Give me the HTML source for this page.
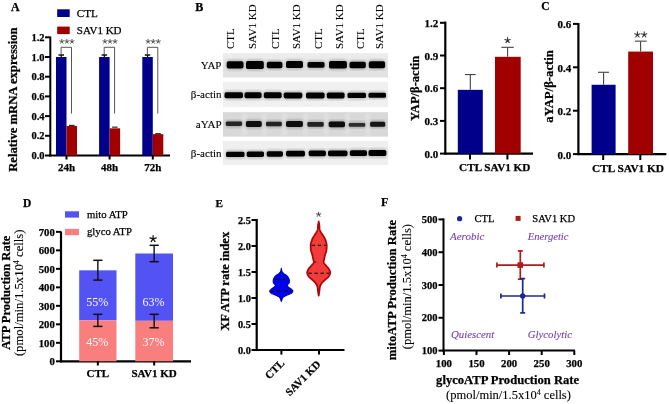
<!DOCTYPE html>
<html><head><meta charset="utf-8"><style>
html,body{margin:0;padding:0;background:#fff;width:669px;height:404px;overflow:hidden}
svg{display:block;font-family:"Liberation Serif",serif;will-change:transform}
</style></head><body>
<svg width="669" height="404" viewBox="0 0 669 404">
<rect width="669" height="404" fill="#fff"/>
<text x="11" y="10.6" font-size="11.9" font-weight="bold" font-style="normal" text-anchor="start" fill="#000" stroke="#000" stroke-width="0.25" >A</text>
<rect x="57.2" y="9.3" width="12.5" height="7.7" fill="#00008b" />
<text x="76.8" y="16.7" font-size="11.1" font-weight="normal" font-style="normal" text-anchor="start" fill="#000" stroke="#000" stroke-width="0.25" >CTL</text>
<rect x="57.2" y="26.6" width="12.5" height="7.5" fill="#a00000" />
<text x="76.8" y="34" font-size="11.0" font-weight="normal" font-style="normal" text-anchor="start" fill="#000" stroke="#000" stroke-width="0.25" >SAV1 KD</text>
<line x1="50.3" y1="36.5" x2="50.3" y2="156.5" stroke="#000" stroke-width="2" />
<line x1="49" y1="155.5" x2="170" y2="155.5" stroke="#000" stroke-width="2" />
<line x1="45" y1="155.5" x2="50" y2="155.5" stroke="#000" stroke-width="2" />
<text x="44.5" y="159.1" font-size="10.5" font-weight="bold" font-style="normal" text-anchor="end" fill="#000" stroke="#000" stroke-width="0.25" >0.0</text>
<line x1="45" y1="135.8" x2="50" y2="135.8" stroke="#000" stroke-width="2" />
<text x="44.5" y="139.4" font-size="10.5" font-weight="bold" font-style="normal" text-anchor="end" fill="#000" stroke="#000" stroke-width="0.25" >0.2</text>
<line x1="45" y1="116.1" x2="50" y2="116.1" stroke="#000" stroke-width="2" />
<text x="44.5" y="119.69999999999999" font-size="10.5" font-weight="bold" font-style="normal" text-anchor="end" fill="#000" stroke="#000" stroke-width="0.25" >0.4</text>
<line x1="45" y1="96.39999999999999" x2="50" y2="96.39999999999999" stroke="#000" stroke-width="2" />
<text x="44.5" y="99.99999999999999" font-size="10.5" font-weight="bold" font-style="normal" text-anchor="end" fill="#000" stroke="#000" stroke-width="0.25" >0.6</text>
<line x1="45" y1="76.69999999999999" x2="50" y2="76.69999999999999" stroke="#000" stroke-width="2" />
<text x="44.5" y="80.29999999999998" font-size="10.5" font-weight="bold" font-style="normal" text-anchor="end" fill="#000" stroke="#000" stroke-width="0.25" >0.8</text>
<line x1="45" y1="57.0" x2="50" y2="57.0" stroke="#000" stroke-width="2" />
<text x="44.5" y="60.6" font-size="10.5" font-weight="bold" font-style="normal" text-anchor="end" fill="#000" stroke="#000" stroke-width="0.25" >1.0</text>
<line x1="45" y1="37.29999999999998" x2="50" y2="37.29999999999998" stroke="#000" stroke-width="2" />
<text x="44.5" y="40.899999999999984" font-size="10.5" font-weight="bold" font-style="normal" text-anchor="end" fill="#000" stroke="#000" stroke-width="0.25" >1.2</text>
<text x="0" y="0" font-size="12.65" font-weight="bold" font-style="normal" text-anchor="middle" fill="#000" stroke="#000" stroke-width="0.25" transform="translate(16.6 99.6) rotate(-90) scale(1 1.03)" >Relative mRNA expression</text>
<rect x="56.0" y="57.0" width="10.5" height="98.5" fill="#00008b" />
<rect x="66.5" y="125.95" width="10.5" height="29.549999999999997" fill="#a00000" />
<line x1="61.25" y1="55.0" x2="61.25" y2="57.0" stroke="#000" stroke-width="1.2" />
<line x1="58.5" y1="55.0" x2="64.0" y2="55.0" stroke="#000" stroke-width="1.4" />
<line x1="69.0" y1="125.35900000000001" x2="74.5" y2="125.35900000000001" stroke="#000" stroke-width="1" />
<line x1="66.5" y1="155.5" x2="66.5" y2="159.5" stroke="#000" stroke-width="2" />
<text x="66.5" y="171.1" font-size="11" font-weight="bold" font-style="normal" text-anchor="middle" fill="#000" stroke="#000" stroke-width="0.25" >24h</text>
<polyline points="61.1,54.0 61.1,47.3 71.5,47.3 71.5,113.5" fill="none" stroke="#444" stroke-width="0.9"/>
<path d="M61.80,41.51L61.80,39.41M61.80,41.51L63.80,40.86M61.80,41.51L63.03,43.21M61.80,41.51L60.57,43.21M61.80,41.51L59.80,40.86" stroke="#555" stroke-width="1.0" stroke-linecap="round" fill="none"/>
<path d="M66.90,41.51L66.90,39.41M66.90,41.51L68.90,40.86M66.90,41.51L68.13,43.21M66.90,41.51L65.67,43.21M66.90,41.51L64.90,40.86" stroke="#555" stroke-width="1.0" stroke-linecap="round" fill="none"/>
<path d="M72.00,41.51L72.00,39.41M72.00,41.51L74.00,40.86M72.00,41.51L73.23,43.21M72.00,41.51L70.77,43.21M72.00,41.51L70.00,40.86" stroke="#555" stroke-width="1.0" stroke-linecap="round" fill="none"/>
<rect x="99.1" y="57.0" width="10.5" height="98.5" fill="#00008b" />
<rect x="109.6" y="128.314" width="10.5" height="27.186000000000007" fill="#a00000" />
<line x1="104.35" y1="55.0" x2="104.35" y2="57.0" stroke="#000" stroke-width="1.2" />
<line x1="101.6" y1="55.0" x2="107.1" y2="55.0" stroke="#000" stroke-width="1.4" />
<line x1="112.1" y1="127.132" x2="117.6" y2="127.132" stroke="#000" stroke-width="1" />
<line x1="109.6" y1="155.5" x2="109.6" y2="159.5" stroke="#000" stroke-width="2" />
<text x="109.6" y="171.1" font-size="11" font-weight="bold" font-style="normal" text-anchor="middle" fill="#000" stroke="#000" stroke-width="0.25" >48h</text>
<polyline points="104.19999999999999,54.0 104.19999999999999,47.3 114.6,47.3 114.6,113.5" fill="none" stroke="#444" stroke-width="0.9"/>
<path d="M104.90,41.51L104.90,39.41M104.90,41.51L106.90,40.86M104.90,41.51L106.13,43.21M104.90,41.51L103.67,43.21M104.90,41.51L102.90,40.86" stroke="#555" stroke-width="1.0" stroke-linecap="round" fill="none"/>
<path d="M110.00,41.51L110.00,39.41M110.00,41.51L112.00,40.86M110.00,41.51L111.23,43.21M110.00,41.51L108.77,43.21M110.00,41.51L108.00,40.86" stroke="#555" stroke-width="1.0" stroke-linecap="round" fill="none"/>
<path d="M115.10,41.51L115.10,39.41M115.10,41.51L117.10,40.86M115.10,41.51L116.33,43.21M115.10,41.51L113.87,43.21M115.10,41.51L113.10,40.86" stroke="#555" stroke-width="1.0" stroke-linecap="round" fill="none"/>
<rect x="142.3" y="57.0" width="10.5" height="98.5" fill="#00008b" />
<rect x="152.8" y="134.1255" width="10.5" height="21.374500000000012" fill="#a00000" />
<line x1="147.55" y1="55.0" x2="147.55" y2="57.0" stroke="#000" stroke-width="1.2" />
<line x1="144.8" y1="55.0" x2="150.3" y2="55.0" stroke="#000" stroke-width="1.4" />
<line x1="155.3" y1="133.7315" x2="160.8" y2="133.7315" stroke="#000" stroke-width="1" />
<line x1="152.8" y1="155.5" x2="152.8" y2="159.5" stroke="#000" stroke-width="2" />
<text x="152.8" y="171.1" font-size="11" font-weight="bold" font-style="normal" text-anchor="middle" fill="#000" stroke="#000" stroke-width="0.25" >72h</text>
<polyline points="147.4,54.0 147.4,47.3 157.8,47.3 157.8,113.5" fill="none" stroke="#444" stroke-width="0.9"/>
<path d="M148.10,41.51L148.10,39.41M148.10,41.51L150.10,40.86M148.10,41.51L149.33,43.21M148.10,41.51L146.87,43.21M148.10,41.51L146.10,40.86" stroke="#555" stroke-width="1.0" stroke-linecap="round" fill="none"/>
<path d="M153.20,41.51L153.20,39.41M153.20,41.51L155.20,40.86M153.20,41.51L154.43,43.21M153.20,41.51L151.97,43.21M153.20,41.51L151.20,40.86" stroke="#555" stroke-width="1.0" stroke-linecap="round" fill="none"/>
<path d="M158.30,41.51L158.30,39.41M158.30,41.51L160.30,40.86M158.30,41.51L159.53,43.21M158.30,41.51L157.07,43.21M158.30,41.51L156.30,40.86" stroke="#555" stroke-width="1.0" stroke-linecap="round" fill="none"/>
<text x="195.3" y="10.6" font-size="12" font-weight="bold" font-style="normal" text-anchor="start" fill="#000" stroke="#000" stroke-width="0.25" >B</text>
<text x="233.9" y="49.0" font-size="11" font-weight="normal" font-style="normal" text-anchor="start" fill="#000" stroke="#000" stroke-width="0.1" transform="rotate(-90 233.9 49.0)" >CTL</text>
<text x="255.8" y="49.0" font-size="11" font-weight="normal" font-style="normal" text-anchor="start" fill="#000" stroke="#000" stroke-width="0.1" transform="rotate(-90 255.8 49.0)" >SAV1 KD</text>
<text x="279.1" y="49.0" font-size="11" font-weight="normal" font-style="normal" text-anchor="start" fill="#000" stroke="#000" stroke-width="0.1" transform="rotate(-90 279.1 49.0)" >CTL</text>
<text x="299.7" y="49.0" font-size="11" font-weight="normal" font-style="normal" text-anchor="start" fill="#000" stroke="#000" stroke-width="0.1" transform="rotate(-90 299.7 49.0)" >SAV1 KD</text>
<text x="322.3" y="49.0" font-size="11" font-weight="normal" font-style="normal" text-anchor="start" fill="#000" stroke="#000" stroke-width="0.1" transform="rotate(-90 322.3 49.0)" >CTL</text>
<text x="343.3" y="49.0" font-size="11" font-weight="normal" font-style="normal" text-anchor="start" fill="#000" stroke="#000" stroke-width="0.1" transform="rotate(-90 343.3 49.0)" >SAV1 KD</text>
<text x="363.9" y="49.0" font-size="11" font-weight="normal" font-style="normal" text-anchor="start" fill="#000" stroke="#000" stroke-width="0.1" transform="rotate(-90 363.9 49.0)" >CTL</text>
<text x="382.6" y="49.0" font-size="11" font-weight="normal" font-style="normal" text-anchor="start" fill="#000" stroke="#000" stroke-width="0.1" transform="rotate(-90 382.6 49.0)" >SAV1 KD</text>
<defs><filter id="bl" x="-30%" y="-80%" width="160%" height="260%"><feGaussianBlur stdDeviation="0.7"/></filter><filter id="bl2" x="-50%" y="-10%" width="200%" height="120%"><feGaussianBlur stdDeviation="1.6"/></filter><linearGradient id="gY" x1="0" y1="0" x2="0" y2="1"><stop offset="0" stop-color="#eeeeee"/><stop offset="0.5" stop-color="#e4e4e4"/><stop offset="1" stop-color="#e2e2e2"/></linearGradient></defs>
<rect x="223" y="53" width="165" height="24.5" fill="url(#gY)" />
<rect x="226.2" y="59.800000000000004" width="17.80000000000001" height="10.2" rx="3.6" fill="#555" opacity="0.35" filter="url(#bl2)"/>
<rect x="226.7" y="61.300000000000004" width="16.80000000000001" height="7.2" rx="1.8" fill="#000" filter="url(#bl)"/>
<rect x="245.5" y="59.5" width="18.80000000000001" height="11" rx="4.0" fill="#555" opacity="0.35" filter="url(#bl2)"/>
<rect x="246" y="61.0" width="17.80000000000001" height="8" rx="1.8" fill="#000" filter="url(#bl)"/>
<rect x="266.3" y="60.3" width="16.599999999999966" height="9.4" rx="3.2" fill="#555" opacity="0.35" filter="url(#bl2)"/>
<rect x="266.8" y="61.8" width="15.599999999999966" height="6.4" rx="1.8" fill="#000" filter="url(#bl)"/>
<rect x="285.5" y="59.599999999999994" width="18" height="10" rx="3.5" fill="#555" opacity="0.35" filter="url(#bl2)"/>
<rect x="286" y="61.099999999999994" width="17" height="7" rx="1.8" fill="#000" filter="url(#bl)"/>
<rect x="307.0" y="60.4" width="18.100000000000023" height="8.8" rx="2.9" fill="#555" opacity="0.35" filter="url(#bl2)"/>
<rect x="307.5" y="61.9" width="17.100000000000023" height="5.8" rx="1.74" fill="#000" filter="url(#bl)"/>
<rect x="328.5" y="59.599999999999994" width="18.899999999999977" height="10.4" rx="3.7" fill="#555" opacity="0.35" filter="url(#bl2)"/>
<rect x="329" y="61.099999999999994" width="17.899999999999977" height="7.4" rx="1.8" fill="#000" filter="url(#bl)"/>
<rect x="349.0" y="60.3" width="17.30000000000001" height="9.4" rx="3.2" fill="#555" opacity="0.35" filter="url(#bl2)"/>
<rect x="349.5" y="61.8" width="16.30000000000001" height="6.4" rx="1.8" fill="#000" filter="url(#bl)"/>
<rect x="368.3" y="59.8" width="17.30000000000001" height="10" rx="3.5" fill="#555" opacity="0.35" filter="url(#bl2)"/>
<rect x="368.8" y="61.3" width="16.30000000000001" height="7" rx="1.8" fill="#000" filter="url(#bl)"/>
<text x="221.5" y="68.95" font-size="11" font-weight="normal" font-style="normal" text-anchor="end" fill="#000" stroke="#000" stroke-width="0.1" >YAP</text>
<rect x="223" y="81.8" width="165" height="25.200000000000003" fill="#f0f0f0" />
<rect x="224.0" y="90.7" width="19.5" height="9" rx="3.0" fill="#555" opacity="0.35" filter="url(#bl2)"/>
<rect x="224.5" y="92.2" width="18.5" height="6" rx="1.7999999999999998" fill="#000" filter="url(#bl)"/>
<rect x="244.0" y="90.7" width="18.100000000000023" height="9" rx="3.0" fill="#555" opacity="0.35" filter="url(#bl2)"/>
<rect x="244.5" y="92.2" width="17.100000000000023" height="6" rx="1.7999999999999998" fill="#000" filter="url(#bl)"/>
<rect x="263.3" y="90.7" width="18.899999999999977" height="9" rx="3.0" fill="#555" opacity="0.35" filter="url(#bl2)"/>
<rect x="263.8" y="92.2" width="17.899999999999977" height="6" rx="1.7999999999999998" fill="#000" filter="url(#bl)"/>
<rect x="283.2" y="90.9" width="19.600000000000023" height="9" rx="3.0" fill="#555" opacity="0.35" filter="url(#bl2)"/>
<rect x="283.7" y="92.4" width="18.600000000000023" height="6" rx="1.7999999999999998" fill="#000" filter="url(#bl)"/>
<rect x="305.5" y="91.0" width="19.600000000000023" height="9" rx="3.0" fill="#555" opacity="0.35" filter="url(#bl2)"/>
<rect x="306" y="92.5" width="18.600000000000023" height="6" rx="1.7999999999999998" fill="#000" filter="url(#bl)"/>
<rect x="326.3" y="91.0" width="18.80000000000001" height="9" rx="3.0" fill="#555" opacity="0.35" filter="url(#bl2)"/>
<rect x="326.8" y="92.5" width="17.80000000000001" height="6" rx="1.7999999999999998" fill="#000" filter="url(#bl)"/>
<rect x="347.0" y="91.2" width="19.5" height="8.4" rx="2.7" fill="#555" opacity="0.35" filter="url(#bl2)"/>
<rect x="347.5" y="92.7" width="18.5" height="5.4" rx="1.62" fill="#000" filter="url(#bl)"/>
<rect x="368.0" y="91.2" width="18.5" height="8.0" rx="2.5" fill="#555" opacity="0.35" filter="url(#bl2)"/>
<rect x="368.5" y="92.7" width="17.5" height="5.0" rx="1.5" fill="#000" filter="url(#bl)"/>
<text x="221.5" y="98.10000000000001" font-size="11" font-weight="normal" font-style="normal" text-anchor="end" fill="#000" stroke="#000" stroke-width="0.1" >β-actin</text>
<rect x="223" y="112.2" width="165" height="24.39999999999999" fill="#d8d8d8" />
<rect x="242.7" y="113.2" width="3.6" height="22.39999999999999" fill="#e2e2e2" filter="url(#bl2)"/>
<rect x="262.7" y="113.2" width="3.6" height="22.39999999999999" fill="#e2e2e2" filter="url(#bl2)"/>
<rect x="282.7" y="113.2" width="3.6" height="22.39999999999999" fill="#e2e2e2" filter="url(#bl2)"/>
<rect x="303.7" y="113.2" width="3.6" height="22.39999999999999" fill="#e2e2e2" filter="url(#bl2)"/>
<rect x="324.7" y="113.2" width="3.6" height="22.39999999999999" fill="#e2e2e2" filter="url(#bl2)"/>
<rect x="345.7" y="113.2" width="3.6" height="22.39999999999999" fill="#e2e2e2" filter="url(#bl2)"/>
<rect x="366.2" y="113.2" width="3.6" height="22.39999999999999" fill="#e2e2e2" filter="url(#bl2)"/>
<rect x="225.3" y="120.0" width="17.299999999999983" height="7.4" rx="2.2" fill="#555" opacity="0.35" filter="url(#bl2)"/>
<rect x="225.8" y="121.5" width="16.299999999999983" height="4.4" rx="1.32" fill="#262626" filter="url(#bl)"/>
<rect x="245.4" y="119.5" width="16.799999999999983" height="9" rx="3.0" fill="#555" opacity="0.35" filter="url(#bl2)"/>
<rect x="245.9" y="121.0" width="15.799999999999983" height="6" rx="1.7999999999999998" fill="#0a0a0a" filter="url(#bl)"/>
<rect x="265.5" y="120.2" width="16.80000000000001" height="7.6" rx="2.3" fill="#555" opacity="0.35" filter="url(#bl2)"/>
<rect x="266" y="121.7" width="15.800000000000011" height="4.6" rx="1.38" fill="#222" filter="url(#bl)"/>
<rect x="285.5" y="119.5" width="17.899999999999977" height="9" rx="3.0" fill="#555" opacity="0.35" filter="url(#bl2)"/>
<rect x="286" y="121.0" width="16.899999999999977" height="6" rx="1.7999999999999998" fill="#0a0a0a" filter="url(#bl)"/>
<rect x="306.9" y="120.60000000000001" width="17.30000000000001" height="7.6" rx="2.3" fill="#555" opacity="0.35" filter="url(#bl2)"/>
<rect x="307.4" y="122.10000000000001" width="16.30000000000001" height="4.6" rx="1.38" fill="#202020" filter="url(#bl)"/>
<rect x="328.2" y="119.95" width="17.30000000000001" height="8.9" rx="2.95" fill="#555" opacity="0.35" filter="url(#bl2)"/>
<rect x="328.7" y="121.45" width="16.30000000000001" height="5.9" rx="1.77" fill="#0a0a0a" filter="url(#bl)"/>
<rect x="348.3" y="121.5" width="17.399999999999977" height="6.8" rx="1.9" fill="#555" opacity="0.35" filter="url(#bl2)"/>
<rect x="348.8" y="123.0" width="16.399999999999977" height="3.8" rx="1.14" fill="#2e2e2e" filter="url(#bl)"/>
<rect x="369.6" y="120.2" width="16.099999999999966" height="8.0" rx="2.5" fill="#555" opacity="0.35" filter="url(#bl2)"/>
<rect x="370.1" y="121.7" width="15.099999999999966" height="5.0" rx="1.5" fill="#151515" filter="url(#bl)"/>
<text x="221.5" y="128.1" font-size="11" font-weight="normal" font-style="normal" text-anchor="end" fill="#000" stroke="#000" stroke-width="0.1" >aYAP</text>
<rect x="223" y="141" width="165" height="24" fill="#efefef" />
<rect x="225.5" y="150.20000000000002" width="19.5" height="8.4" rx="2.7" fill="#555" opacity="0.35" filter="url(#bl2)"/>
<rect x="226" y="151.70000000000002" width="18.5" height="5.4" rx="1.62" fill="#000" filter="url(#bl)"/>
<rect x="246.2" y="150.0" width="18.30000000000001" height="8.4" rx="2.7" fill="#555" opacity="0.35" filter="url(#bl2)"/>
<rect x="246.7" y="151.5" width="17.30000000000001" height="5.4" rx="1.62" fill="#000" filter="url(#bl)"/>
<rect x="266.2" y="149.7" width="17.30000000000001" height="8.6" rx="2.8" fill="#555" opacity="0.35" filter="url(#bl2)"/>
<rect x="266.7" y="151.2" width="16.30000000000001" height="5.6" rx="1.68" fill="#000" filter="url(#bl)"/>
<rect x="285.5" y="149.29999999999998" width="20" height="8.6" rx="2.8" fill="#555" opacity="0.35" filter="url(#bl2)"/>
<rect x="286" y="150.79999999999998" width="19" height="5.6" rx="1.68" fill="#000" filter="url(#bl)"/>
<rect x="308.2" y="148.9" width="18.19999999999999" height="8.8" rx="2.9" fill="#555" opacity="0.35" filter="url(#bl2)"/>
<rect x="308.7" y="150.4" width="17.19999999999999" height="5.8" rx="1.74" fill="#000" filter="url(#bl)"/>
<rect x="327.5" y="148.9" width="20.5" height="8.8" rx="2.9" fill="#555" opacity="0.35" filter="url(#bl2)"/>
<rect x="328" y="150.4" width="19.5" height="5.8" rx="1.74" fill="#000" filter="url(#bl)"/>
<rect x="349.3" y="148.79999999999998" width="18.19999999999999" height="8.8" rx="2.9" fill="#555" opacity="0.35" filter="url(#bl2)"/>
<rect x="349.8" y="150.29999999999998" width="17.19999999999999" height="5.8" rx="1.74" fill="#000" filter="url(#bl)"/>
<rect x="368.0" y="148.6" width="18.899999999999977" height="8.8" rx="2.9" fill="#555" opacity="0.35" filter="url(#bl2)"/>
<rect x="368.5" y="150.1" width="17.899999999999977" height="5.8" rx="1.74" fill="#000" filter="url(#bl)"/>
<text x="221.5" y="156.7" font-size="11" font-weight="normal" font-style="normal" text-anchor="end" fill="#000" stroke="#000" stroke-width="0.1" >β-actin</text>
<line x1="445.3" y1="21.6" x2="445.3" y2="154.6" stroke="#000" stroke-width="2.2" />
<line x1="444.3" y1="153.6" x2="533" y2="153.6" stroke="#000" stroke-width="2.2" />
<line x1="440" y1="153.6" x2="445.3" y2="153.6" stroke="#000" stroke-width="2" />
<text x="438.3" y="157.79999999999998" font-size="11" font-weight="bold" font-style="normal" text-anchor="end" fill="#000" stroke="#000" stroke-width="0.25" >0.0</text>
<line x1="440" y1="120.9" x2="445.3" y2="120.9" stroke="#000" stroke-width="2" />
<text x="438.3" y="125.10000000000001" font-size="11" font-weight="bold" font-style="normal" text-anchor="end" fill="#000" stroke="#000" stroke-width="0.25" >0.3</text>
<line x1="440" y1="88.2" x2="445.3" y2="88.2" stroke="#000" stroke-width="2" />
<text x="438.3" y="92.4" font-size="11" font-weight="bold" font-style="normal" text-anchor="end" fill="#000" stroke="#000" stroke-width="0.25" >0.6</text>
<line x1="440" y1="55.5" x2="445.3" y2="55.5" stroke="#000" stroke-width="2" />
<text x="438.3" y="59.7" font-size="11" font-weight="bold" font-style="normal" text-anchor="end" fill="#000" stroke="#000" stroke-width="0.25" >0.9</text>
<line x1="440" y1="22.80000000000001" x2="445.3" y2="22.80000000000001" stroke="#000" stroke-width="2" />
<text x="438.3" y="27.00000000000001" font-size="11" font-weight="bold" font-style="normal" text-anchor="end" fill="#000" stroke="#000" stroke-width="0.25" >1.2</text>
<text x="0" y="0" font-size="12.55" font-weight="bold" font-style="normal" text-anchor="middle" fill="#000" stroke="#000" stroke-width="0.25" transform="translate(419 88.4) rotate(-90) scale(1 1.02)" >YAP/β-actin</text>
<rect x="457.8" y="89.83500000000001" width="25" height="63.764999999999986" fill="#00008b" />
<rect x="495" y="56.80799999999999" width="25.7" height="96.792" fill="#a00000" />
<line x1="470.3" y1="89.83500000000001" x2="470.3" y2="74.575" stroke="#444" stroke-width="1.1" />
<line x1="465" y1="74.575" x2="475.6" y2="74.575" stroke="#444" stroke-width="1.1" />
<line x1="507.6" y1="56.80799999999999" x2="507.6" y2="47.325" stroke="#444" stroke-width="1.1" />
<line x1="501.4" y1="47.325" x2="513.8" y2="47.325" stroke="#444" stroke-width="1.1" />
<path d="M507.60,40.38L507.60,37.58M507.60,40.38L510.26,39.51M507.60,40.38L509.25,42.65M507.60,40.38L505.95,42.65M507.60,40.38L504.94,39.51" stroke="#333" stroke-width="1.1" stroke-linecap="round" fill="none"/>
<line x1="470" y1="153.6" x2="470" y2="159.5" stroke="#000" stroke-width="2" />
<line x1="507.4" y1="153.6" x2="507.4" y2="159.5" stroke="#000" stroke-width="2" />
<text x="459.1" y="170.9" font-size="11.2" font-weight="bold" font-style="normal" text-anchor="start" fill="#000" stroke="#000" stroke-width="0.25" >CTL SAV1 KD</text>
<text x="541.2" y="9.8" font-size="11.6" font-weight="bold" font-style="normal" text-anchor="start" fill="#000" stroke="#000" stroke-width="0.25" >C</text>
<line x1="578.4" y1="23" x2="578.4" y2="155.1" stroke="#000" stroke-width="2.2" />
<line x1="577.4" y1="154.1" x2="666.3" y2="154.1" stroke="#000" stroke-width="2.2" />
<line x1="573" y1="154.1" x2="578.4" y2="154.1" stroke="#000" stroke-width="2" />
<text x="571.3" y="158.5" font-size="11" font-weight="bold" font-style="normal" text-anchor="end" fill="#000" stroke="#000" stroke-width="0.25" >0.0</text>
<line x1="573" y1="110.69999999999999" x2="578.4" y2="110.69999999999999" stroke="#000" stroke-width="2" />
<text x="571.3" y="115.1" font-size="11" font-weight="bold" font-style="normal" text-anchor="end" fill="#000" stroke="#000" stroke-width="0.25" >0.2</text>
<line x1="573" y1="67.29999999999998" x2="578.4" y2="67.29999999999998" stroke="#000" stroke-width="2" />
<text x="571.3" y="71.69999999999999" font-size="11" font-weight="bold" font-style="normal" text-anchor="end" fill="#000" stroke="#000" stroke-width="0.25" >0.4</text>
<line x1="573" y1="23.899999999999977" x2="578.4" y2="23.899999999999977" stroke="#000" stroke-width="2" />
<text x="571.3" y="28.299999999999976" font-size="11" font-weight="bold" font-style="normal" text-anchor="end" fill="#000" stroke="#000" stroke-width="0.25" >0.6</text>
<text x="0" y="0" font-size="12.7" font-weight="bold" font-style="normal" text-anchor="middle" fill="#000" stroke="#000" stroke-width="0.25" transform="translate(553.2 86.4) rotate(-90) scale(1 1.06)" >aYAP/β-actin</text>
<rect x="591.6" y="84.76849999999999" width="24" height="69.3315" fill="#00008b" />
<rect x="628.2" y="51.567499999999995" width="24.8" height="102.5325" fill="#a00000" />
<line x1="603.6" y1="84.76849999999999" x2="603.6" y2="72.291" stroke="#444" stroke-width="1.1" />
<line x1="598" y1="72.291" x2="609" y2="72.291" stroke="#444" stroke-width="1.1" />
<line x1="640.6" y1="51.567499999999995" x2="640.6" y2="41.1515" stroke="#444" stroke-width="1.1" />
<line x1="635" y1="41.1515" x2="646.7" y2="41.1515" stroke="#444" stroke-width="1.1" />
<path d="M637.40,34.68L637.40,31.88M637.40,34.68L640.06,33.81M637.40,34.68L639.05,36.95M637.40,34.68L635.75,36.95M637.40,34.68L634.74,33.81" stroke="#333" stroke-width="1.1" stroke-linecap="round" fill="none"/>
<path d="M644.20,34.68L644.20,31.88M644.20,34.68L646.86,33.81M644.20,34.68L645.85,36.95M644.20,34.68L642.55,36.95M644.20,34.68L641.54,33.81" stroke="#333" stroke-width="1.1" stroke-linecap="round" fill="none"/>
<line x1="603.2" y1="154.1" x2="603.2" y2="160" stroke="#000" stroke-width="2" />
<line x1="640.3" y1="154.1" x2="640.3" y2="160" stroke="#000" stroke-width="2" />
<text x="592" y="172" font-size="11.3" font-weight="bold" font-style="normal" text-anchor="start" fill="#000" stroke="#000" stroke-width="0.25" >CTL SAV1 KD</text>
<text x="23" y="206.5" font-size="11.5" font-weight="bold" font-style="normal" text-anchor="start" fill="#000" stroke="#000" stroke-width="0.25" >D</text>
<rect x="65" y="211.3" width="14" height="6.3" fill="#5353f3" />
<text x="87" y="217.6" font-size="10.7" font-weight="normal" font-style="normal" text-anchor="start" fill="#000" stroke="#000" stroke-width="0.25" >mito ATP</text>
<rect x="65" y="228.9" width="14" height="6.3" fill="#f97e7e" />
<text x="87" y="235.2" font-size="10.7" font-weight="normal" font-style="normal" text-anchor="start" fill="#000" stroke="#000" stroke-width="0.25" >glyco ATP</text>
<line x1="61" y1="231.5" x2="61" y2="362.3" stroke="#000" stroke-width="2.2" />
<line x1="60" y1="361.3" x2="191" y2="361.3" stroke="#000" stroke-width="2.2" />
<line x1="56" y1="361.3" x2="61" y2="361.3" stroke="#000" stroke-width="2" />
<text x="54.8" y="365.2" font-size="10.7" font-weight="bold" font-style="normal" text-anchor="end" fill="#000" stroke="#000" stroke-width="0.25" >0</text>
<line x1="56" y1="342.81" x2="61" y2="342.81" stroke="#000" stroke-width="2" />
<text x="54.8" y="346.71" font-size="10.7" font-weight="bold" font-style="normal" text-anchor="end" fill="#000" stroke="#000" stroke-width="0.25" >100</text>
<line x1="56" y1="324.32" x2="61" y2="324.32" stroke="#000" stroke-width="2" />
<text x="54.8" y="328.21999999999997" font-size="10.7" font-weight="bold" font-style="normal" text-anchor="end" fill="#000" stroke="#000" stroke-width="0.25" >200</text>
<line x1="56" y1="305.83" x2="61" y2="305.83" stroke="#000" stroke-width="2" />
<text x="54.8" y="309.72999999999996" font-size="10.7" font-weight="bold" font-style="normal" text-anchor="end" fill="#000" stroke="#000" stroke-width="0.25" >300</text>
<line x1="56" y1="287.34000000000003" x2="61" y2="287.34000000000003" stroke="#000" stroke-width="2" />
<text x="54.8" y="291.24" font-size="10.7" font-weight="bold" font-style="normal" text-anchor="end" fill="#000" stroke="#000" stroke-width="0.25" >400</text>
<line x1="56" y1="268.85" x2="61" y2="268.85" stroke="#000" stroke-width="2" />
<text x="54.8" y="272.75" font-size="10.7" font-weight="bold" font-style="normal" text-anchor="end" fill="#000" stroke="#000" stroke-width="0.25" >500</text>
<line x1="56" y1="250.36" x2="61" y2="250.36" stroke="#000" stroke-width="2" />
<text x="54.8" y="254.26000000000002" font-size="10.7" font-weight="bold" font-style="normal" text-anchor="end" fill="#000" stroke="#000" stroke-width="0.25" >600</text>
<line x1="56" y1="231.87" x2="61" y2="231.87" stroke="#000" stroke-width="2" />
<text x="54.8" y="235.77" font-size="10.7" font-weight="bold" font-style="normal" text-anchor="end" fill="#000" stroke="#000" stroke-width="0.25" >700</text>
<text x="0" y="0" font-size="12.5" font-weight="bold" font-style="normal" text-anchor="middle" fill="#000" stroke="#000" stroke-width="0.25" transform="translate(10.1 292.7) rotate(-90) scale(1 1.0)" >ATP Production Rate</text>
<text x="23.2" y="292.8" font-size="12.7" font-weight="normal" font-style="normal" text-anchor="middle" fill="#000" stroke="#000" stroke-width="0.1" transform="rotate(-90 23.2 292.8)" >(pmol/min/1.5x10<tspan baseline-shift="super" font-size="8">4</tspan> cells)</text>
<rect x="79.2" y="270.3292" width="37.3" height="49.978470000000016" fill="#5353f3" />
<rect x="79.2" y="320.30767000000003" width="37.3" height="40.99232999999998" fill="#f97e7e" />
<line x1="97.85" y1="260.3" x2="97.85" y2="280.1" stroke="#111" stroke-width="1.4" />
<line x1="93.25" y1="260.3" x2="102.44999999999999" y2="260.3" stroke="#111" stroke-width="1.5" />
<line x1="93.25" y1="280.1" x2="102.44999999999999" y2="280.1" stroke="#111" stroke-width="1.5" />
<line x1="97.85" y1="314.3" x2="97.85" y2="326.4" stroke="#111" stroke-width="1.4" />
<line x1="93.25" y1="314.3" x2="102.44999999999999" y2="314.3" stroke="#111" stroke-width="1.5" />
<line x1="93.25" y1="326.4" x2="102.44999999999999" y2="326.4" stroke="#111" stroke-width="1.5" />
<text x="97.14999999999999" y="305.6" font-size="12" font-weight="normal" font-style="normal" text-anchor="middle" fill="#fafafa" >55%</text>
<text x="97.14999999999999" y="345.8" font-size="12" font-weight="normal" font-style="normal" text-anchor="middle" fill="#fafafa" >45%</text>
<line x1="97.85" y1="361.3" x2="97.85" y2="365.5" stroke="#000" stroke-width="2" />
<text x="97.85" y="377.2" font-size="11" font-weight="bold" font-style="normal" text-anchor="middle" fill="#000" stroke="#000" stroke-width="0.25" >CTL</text>
<rect x="135.3" y="253.50330000000002" width="37.7" height="67.30359999999996" fill="#5353f3" />
<rect x="135.3" y="320.8069" width="37.7" height="40.49310000000003" fill="#f97e7e" />
<line x1="154.15" y1="245.3" x2="154.15" y2="261.7" stroke="#111" stroke-width="1.4" />
<line x1="149.55" y1="245.3" x2="158.75" y2="245.3" stroke="#111" stroke-width="1.5" />
<line x1="149.55" y1="261.7" x2="158.75" y2="261.7" stroke="#111" stroke-width="1.5" />
<line x1="154.15" y1="314.3" x2="154.15" y2="327.8" stroke="#111" stroke-width="1.4" />
<line x1="149.55" y1="314.3" x2="158.75" y2="314.3" stroke="#111" stroke-width="1.5" />
<line x1="149.55" y1="327.8" x2="158.75" y2="327.8" stroke="#111" stroke-width="1.5" />
<text x="153.45000000000002" y="305.6" font-size="12" font-weight="normal" font-style="normal" text-anchor="middle" fill="#fafafa" >63%</text>
<text x="153.45000000000002" y="345.8" font-size="12" font-weight="normal" font-style="normal" text-anchor="middle" fill="#fafafa" >37%</text>
<line x1="154.15" y1="361.3" x2="154.15" y2="365.5" stroke="#000" stroke-width="2" />
<text x="154.15" y="377.2" font-size="11" font-weight="bold" font-style="normal" text-anchor="middle" fill="#000" stroke="#000" stroke-width="0.25" >SAV1 KD</text>
<path d="M153.10,238.93L153.10,235.63M153.10,238.93L156.24,237.91M153.10,238.93L155.04,241.60M153.10,238.93L151.16,241.60M153.10,238.93L149.96,237.91" stroke="#111" stroke-width="1.25" stroke-linecap="round" fill="none"/>
<text x="215.6" y="206.5" font-size="11.2" font-weight="bold" font-style="normal" text-anchor="start" fill="#000" stroke="#000" stroke-width="0.25" >E</text>
<line x1="256.7" y1="219" x2="256.7" y2="351.1" stroke="#000" stroke-width="2.2" />
<line x1="255.6" y1="350.0" x2="344.5" y2="350.0" stroke="#000" stroke-width="2.2" />
<line x1="251.5" y1="350.0" x2="256.7" y2="350.0" stroke="#000" stroke-width="2" />
<text x="250.8" y="354.0" font-size="10.3" font-weight="bold" font-style="normal" text-anchor="end" fill="#000" stroke="#000" stroke-width="0.25" >0.0</text>
<line x1="251.5" y1="324.0" x2="256.7" y2="324.0" stroke="#000" stroke-width="2" />
<text x="250.8" y="328.0" font-size="10.3" font-weight="bold" font-style="normal" text-anchor="end" fill="#000" stroke="#000" stroke-width="0.25" >0.5</text>
<line x1="251.5" y1="298.0" x2="256.7" y2="298.0" stroke="#000" stroke-width="2" />
<text x="250.8" y="302.0" font-size="10.3" font-weight="bold" font-style="normal" text-anchor="end" fill="#000" stroke="#000" stroke-width="0.25" >1.0</text>
<line x1="251.5" y1="272.0" x2="256.7" y2="272.0" stroke="#000" stroke-width="2" />
<text x="250.8" y="276.0" font-size="10.3" font-weight="bold" font-style="normal" text-anchor="end" fill="#000" stroke="#000" stroke-width="0.25" >1.5</text>
<line x1="251.5" y1="246.0" x2="256.7" y2="246.0" stroke="#000" stroke-width="2" />
<text x="250.8" y="250.0" font-size="10.3" font-weight="bold" font-style="normal" text-anchor="end" fill="#000" stroke="#000" stroke-width="0.25" >2.0</text>
<line x1="251.5" y1="220.0" x2="256.7" y2="220.0" stroke="#000" stroke-width="2" />
<text x="250.8" y="224.0" font-size="10.3" font-weight="bold" font-style="normal" text-anchor="end" fill="#000" stroke="#000" stroke-width="0.25" >2.5</text>
<text x="229" y="281.3" font-size="12.5" font-weight="bold" font-style="normal" text-anchor="middle" fill="#000" stroke="#000" stroke-width="0.25" transform="rotate(-90 229 281.3)" >XF ATP rate index</text>
<line x1="281.4" y1="350" x2="281.4" y2="354.6" stroke="#000" stroke-width="2" />
<line x1="319" y1="350" x2="319" y2="354.6" stroke="#000" stroke-width="2" />
<text x="285" y="364" font-size="10.8" font-weight="bold" font-style="normal" text-anchor="end" fill="#000" stroke="#000" stroke-width="0.25" transform="rotate(-45 285 364)" >CTL</text>
<text x="321.3" y="365" font-size="10.8" font-weight="bold" font-style="normal" text-anchor="end" fill="#000" stroke="#000" stroke-width="0.25" transform="rotate(-45 321.3 365)" >SAV1 KD</text>
<polygon points="281.30,268.30 281.33,268.46 281.37,268.66 281.40,268.89 281.45,269.16 281.50,269.44 281.56,269.74 281.63,270.05 281.71,270.34 281.80,270.63 281.90,270.90 282.02,271.16 282.15,271.42 282.29,271.69 282.44,271.96 282.60,272.22 282.77,272.48 282.94,272.73 283.13,272.97 283.31,273.19 283.50,273.40 283.70,273.59 283.90,273.76 284.12,273.91 284.34,274.05 284.57,274.18 284.80,274.31 285.03,274.44 285.26,274.58 285.48,274.73 285.70,274.90 285.92,275.08 286.14,275.25 286.36,275.43 286.58,275.62 286.80,275.81 287.02,276.01 287.22,276.22 287.43,276.43 287.62,276.66 287.80,276.90 287.98,277.15 288.15,277.42 288.32,277.70 288.48,277.99 288.64,278.29 288.78,278.59 288.91,278.89 289.03,279.20 289.12,279.50 289.20,279.80 289.26,280.10 289.30,280.40 289.33,280.71 289.35,281.02 289.35,281.32 289.33,281.63 289.30,281.93 289.25,282.23 289.19,282.52 289.10,282.80 288.97,283.07 288.80,283.34 288.58,283.60 288.35,283.86 288.11,284.11 287.87,284.36 287.66,284.60 287.48,284.84 287.36,285.07 287.30,285.30 287.31,285.52 287.36,285.73 287.45,285.94 287.57,286.14 287.73,286.34 287.90,286.53 288.09,286.72 288.29,286.91 288.50,287.11 288.70,287.30 288.92,287.49 289.16,287.68 289.43,287.87 289.71,288.06 289.99,288.25 290.28,288.44 290.56,288.63 290.83,288.82 291.08,289.01 291.30,289.20 291.51,289.40 291.72,289.59 291.93,289.79 292.12,289.99 292.31,290.19 292.47,290.40 292.61,290.60 292.71,290.80 292.78,291.00 292.80,291.20 292.79,291.40 292.74,291.60 292.67,291.80 292.56,292.00 292.43,292.20 292.26,292.40 292.06,292.60 291.84,292.80 291.59,293.00 291.30,293.20 290.97,293.40 290.58,293.60 290.15,293.80 289.68,294.00 289.19,294.20 288.69,294.40 288.19,294.60 287.70,294.80 287.23,295.00 286.80,295.20 286.39,295.40 285.97,295.59 285.55,295.79 285.14,295.98 284.74,296.17 284.36,296.37 284.00,296.57 283.67,296.77 283.37,296.98 283.10,297.20 282.88,297.43 282.69,297.66 282.54,297.91 282.41,298.16 282.31,298.41 282.22,298.66 282.14,298.91 282.06,299.15 281.98,299.38 281.90,299.60 281.81,299.81 281.73,300.03 281.66,300.24 281.59,300.45 281.53,300.65 281.47,300.84 281.42,301.01 281.37,301.16 281.33,301.30 281.30,301.40 281.30,301.40 281.27,301.30 281.23,301.16 281.18,301.01 281.13,300.84 281.07,300.65 281.01,300.45 280.94,300.24 280.87,300.03 280.79,299.81 280.70,299.60 280.62,299.38 280.54,299.15 280.46,298.91 280.38,298.66 280.29,298.41 280.19,298.16 280.06,297.91 279.91,297.66 279.72,297.43 279.50,297.20 279.23,296.98 278.93,296.77 278.60,296.57 278.24,296.37 277.86,296.17 277.46,295.98 277.05,295.79 276.63,295.59 276.21,295.40 275.80,295.20 275.37,295.00 274.90,294.80 274.41,294.60 273.91,294.40 273.41,294.20 272.92,294.00 272.45,293.80 272.02,293.60 271.63,293.40 271.30,293.20 271.01,293.00 270.76,292.80 270.54,292.60 270.34,292.40 270.18,292.20 270.04,292.00 269.94,291.80 269.86,291.60 269.81,291.40 269.80,291.20 269.82,291.00 269.89,290.80 269.99,290.60 270.13,290.40 270.29,290.19 270.48,289.99 270.67,289.79 270.88,289.59 271.09,289.40 271.30,289.20 271.52,289.01 271.77,288.82 272.04,288.63 272.32,288.44 272.61,288.25 272.89,288.06 273.17,287.87 273.44,287.68 273.68,287.49 273.90,287.30 274.10,287.11 274.31,286.91 274.51,286.72 274.70,286.53 274.88,286.34 275.03,286.14 275.15,285.94 275.24,285.73 275.30,285.52 275.30,285.30 275.24,285.07 275.12,284.84 274.94,284.60 274.73,284.36 274.49,284.11 274.25,283.86 274.02,283.60 273.80,283.34 273.63,283.07 273.50,282.80 273.41,282.52 273.35,282.23 273.30,281.93 273.27,281.63 273.25,281.32 273.25,281.02 273.27,280.71 273.30,280.40 273.34,280.10 273.40,279.80 273.48,279.50 273.57,279.20 273.69,278.89 273.82,278.59 273.96,278.29 274.12,277.99 274.28,277.70 274.45,277.42 274.62,277.15 274.80,276.90 274.98,276.66 275.17,276.43 275.38,276.22 275.58,276.01 275.80,275.81 276.02,275.62 276.24,275.43 276.46,275.25 276.68,275.08 276.90,274.90 277.12,274.73 277.34,274.58 277.57,274.44 277.80,274.31 278.03,274.18 278.26,274.05 278.48,273.91 278.70,273.76 278.90,273.59 279.10,273.40 279.29,273.19 279.47,272.97 279.66,272.73 279.83,272.48 280.00,272.22 280.16,271.96 280.31,271.69 280.45,271.42 280.58,271.16 280.70,270.90 280.80,270.63 280.89,270.34 280.97,270.05 281.04,269.74 281.10,269.44 281.15,269.16 281.20,268.89 281.23,268.66 281.27,268.46 281.30,268.30" fill="#0000f0" stroke="#0000b8" stroke-width="1.2" stroke-linejoin="round"/>
<polygon points="318.70,221.30 318.74,221.50 318.78,221.75 318.84,222.04 318.91,222.37 318.97,222.73 319.05,223.10 319.12,223.50 319.18,223.90 319.25,224.30 319.30,224.70 319.34,225.10 319.38,225.54 319.41,225.98 319.43,226.45 319.46,226.91 319.48,227.38 319.52,227.84 319.57,228.28 319.62,228.70 319.70,229.10 319.79,229.47 319.89,229.82 320.00,230.15 320.12,230.46 320.24,230.77 320.38,231.07 320.52,231.37 320.67,231.67 320.83,231.98 321.00,232.30 321.18,232.63 321.37,232.95 321.58,233.28 321.79,233.61 322.01,233.94 322.24,234.28 322.46,234.61 322.68,234.94 322.89,235.27 323.10,235.60 323.30,235.93 323.50,236.24 323.70,236.56 323.90,236.87 324.09,237.19 324.29,237.51 324.47,237.84 324.66,238.18 324.83,238.53 325.00,238.90 325.17,239.29 325.33,239.71 325.49,240.15 325.65,240.60 325.80,241.05 325.94,241.50 326.08,241.95 326.20,242.39 326.31,242.81 326.40,243.20 326.48,243.57 326.54,243.91 326.59,244.23 326.63,244.54 326.66,244.84 326.68,245.15 326.70,245.46 326.70,245.79 326.70,246.13 326.70,246.50 326.69,246.90 326.68,247.31 326.66,247.74 326.63,248.19 326.60,248.64 326.56,249.09 326.51,249.55 326.45,250.01 326.38,250.46 326.30,250.90 326.20,251.33 326.09,251.77 325.96,252.20 325.83,252.63 325.68,253.06 325.53,253.49 325.39,253.92 325.25,254.35 325.12,254.77 325.00,255.20 324.89,255.63 324.79,256.06 324.68,256.50 324.59,256.94 324.49,257.37 324.40,257.80 324.32,258.22 324.24,258.63 324.17,259.02 324.10,259.40 324.03,259.76 323.94,260.10 323.85,260.43 323.76,260.75 323.68,261.06 323.62,261.36 323.58,261.66 323.58,261.97 323.62,262.28 323.70,262.60 323.84,262.93 324.03,263.25 324.26,263.58 324.52,263.91 324.81,264.24 325.11,264.58 325.42,264.91 325.73,265.24 326.02,265.57 326.30,265.90 326.57,266.23 326.86,266.55 327.15,266.87 327.44,267.20 327.74,267.52 328.02,267.84 328.30,268.17 328.55,268.51 328.79,268.85 329.00,269.20 329.19,269.56 329.38,269.93 329.56,270.30 329.73,270.68 329.88,271.07 330.01,271.46 330.11,271.84 330.18,272.23 330.21,272.62 330.20,273.00 330.15,273.38 330.06,273.77 329.94,274.16 329.79,274.54 329.61,274.93 329.40,275.32 329.17,275.70 328.93,276.07 328.67,276.44 328.40,276.80 328.10,277.15 327.77,277.49 327.41,277.83 327.03,278.16 326.63,278.49 326.23,278.81 325.83,279.13 325.43,279.45 325.05,279.78 324.70,280.10 324.36,280.42 324.02,280.74 323.68,281.06 323.34,281.38 323.02,281.70 322.70,282.02 322.40,282.34 322.11,282.66 321.85,282.98 321.60,283.30 321.37,283.62 321.17,283.94 320.98,284.25 320.80,284.56 320.64,284.88 320.50,285.20 320.36,285.53 320.23,285.87 320.11,286.23 320.00,286.60 319.90,287.00 319.82,287.41 319.75,287.84 319.69,288.28 319.64,288.73 319.60,289.18 319.56,289.64 319.51,290.10 319.46,290.55 319.40,291.00 319.33,291.47 319.26,291.97 319.18,292.48 319.09,293.01 319.01,293.52 318.93,294.02 318.86,294.48 318.80,294.89 318.74,295.23 318.70,295.50 318.70,295.50 318.66,295.23 318.60,294.89 318.54,294.48 318.47,294.02 318.39,293.52 318.31,293.01 318.22,292.48 318.14,291.97 318.07,291.47 318.00,291.00 317.94,290.55 317.89,290.10 317.84,289.64 317.80,289.18 317.76,288.73 317.71,288.28 317.65,287.84 317.58,287.41 317.50,287.00 317.40,286.60 317.29,286.23 317.17,285.87 317.04,285.53 316.90,285.20 316.76,284.88 316.60,284.56 316.42,284.25 316.23,283.94 316.03,283.62 315.80,283.30 315.55,282.98 315.29,282.66 315.00,282.34 314.70,282.02 314.38,281.70 314.06,281.38 313.72,281.06 313.38,280.74 313.04,280.42 312.70,280.10 312.35,279.78 311.97,279.45 311.57,279.13 311.17,278.81 310.77,278.49 310.37,278.16 309.99,277.83 309.63,277.49 309.30,277.15 309.00,276.80 308.73,276.44 308.47,276.07 308.23,275.70 308.00,275.32 307.79,274.93 307.61,274.54 307.46,274.16 307.34,273.77 307.25,273.38 307.20,273.00 307.19,272.62 307.22,272.23 307.29,271.84 307.39,271.46 307.52,271.07 307.67,270.68 307.84,270.30 308.02,269.93 308.21,269.56 308.40,269.20 308.61,268.85 308.85,268.51 309.10,268.17 309.38,267.84 309.66,267.52 309.96,267.20 310.25,266.87 310.54,266.55 310.83,266.23 311.10,265.90 311.38,265.57 311.67,265.24 311.98,264.91 312.29,264.58 312.59,264.24 312.88,263.91 313.14,263.58 313.37,263.25 313.56,262.93 313.70,262.60 313.78,262.28 313.82,261.97 313.82,261.66 313.78,261.36 313.72,261.06 313.64,260.75 313.55,260.43 313.46,260.10 313.37,259.76 313.30,259.40 313.23,259.02 313.16,258.63 313.08,258.22 313.00,257.80 312.91,257.37 312.81,256.94 312.72,256.50 312.61,256.06 312.51,255.63 312.40,255.20 312.28,254.77 312.15,254.35 312.01,253.92 311.87,253.49 311.72,253.06 311.57,252.63 311.44,252.20 311.31,251.77 311.20,251.33 311.10,250.90 311.02,250.46 310.95,250.01 310.89,249.55 310.84,249.09 310.80,248.64 310.77,248.19 310.74,247.74 310.72,247.31 310.71,246.90 310.70,246.50 310.70,246.13 310.70,245.79 310.70,245.46 310.72,245.15 310.74,244.84 310.77,244.54 310.81,244.23 310.86,243.91 310.92,243.57 311.00,243.20 311.09,242.81 311.20,242.39 311.32,241.95 311.46,241.50 311.60,241.05 311.75,240.60 311.91,240.15 312.07,239.71 312.23,239.29 312.40,238.90 312.57,238.53 312.74,238.18 312.93,237.84 313.11,237.51 313.31,237.19 313.50,236.87 313.70,236.56 313.90,236.24 314.10,235.93 314.30,235.60 314.51,235.27 314.72,234.94 314.94,234.61 315.16,234.28 315.39,233.94 315.61,233.61 315.82,233.28 316.03,232.95 316.22,232.63 316.40,232.30 316.57,231.98 316.73,231.67 316.88,231.37 317.02,231.07 317.16,230.77 317.28,230.46 317.40,230.15 317.51,229.82 317.61,229.47 317.70,229.10 317.78,228.70 317.83,228.28 317.88,227.84 317.92,227.38 317.94,226.91 317.97,226.45 317.99,225.98 318.02,225.54 318.06,225.10 318.10,224.70 318.15,224.30 318.22,223.90 318.28,223.50 318.35,223.10 318.43,222.73 318.49,222.37 318.56,222.04 318.62,221.75 318.66,221.50 318.70,221.30" fill="#f23c3c" stroke="#b00606" stroke-width="1.8" stroke-linejoin="round"/>
<line x1="275.4" y1="279.3" x2="278.4" y2="279.3" stroke="#111" stroke-width="1.3" />
<line x1="280.9" y1="279.3" x2="284.3" y2="279.3" stroke="#111" stroke-width="1.3" />
<line x1="271" y1="291.2" x2="274.4" y2="291.2" stroke="#111" stroke-width="1.3" />
<line x1="276.9" y1="291.2" x2="280.4" y2="291.2" stroke="#111" stroke-width="1.3" />
<line x1="283.3" y1="291.2" x2="287.3" y2="291.2" stroke="#111" stroke-width="1.3" />
<line x1="289.2" y1="291.2" x2="291.2" y2="291.2" stroke="#111" stroke-width="1.3" />
<line x1="311.8" y1="245.4" x2="315.1" y2="245.4" stroke="#111" stroke-width="1.3" />
<line x1="317.8" y1="245.4" x2="321.1" y2="245.4" stroke="#111" stroke-width="1.3" />
<line x1="323.8" y1="245.4" x2="326" y2="245.4" stroke="#111" stroke-width="1.3" />
<line x1="308.5" y1="273.3" x2="311.8" y2="273.3" stroke="#111" stroke-width="1.3" />
<line x1="314.5" y1="273.3" x2="317.8" y2="273.3" stroke="#111" stroke-width="1.3" />
<line x1="320.5" y1="273.3" x2="323.8" y2="273.3" stroke="#111" stroke-width="1.3" />
<line x1="326.5" y1="273.3" x2="329.2" y2="273.3" stroke="#111" stroke-width="1.3" />
<line x1="315" y1="261.6" x2="316.2" y2="262.4" stroke="#111" stroke-width="1.1" />
<path d="M318.60,214.53L318.60,212.23M318.60,214.53L320.79,213.82M318.60,214.53L319.95,216.39M318.60,214.53L317.25,216.39M318.60,214.53L316.41,213.82" stroke="#444" stroke-width="1.0" stroke-linecap="round" fill="none"/>
<text x="381" y="206.3" font-size="12" font-weight="bold" font-style="normal" text-anchor="start" fill="#000" stroke="#000" stroke-width="0.25" >F</text>
<line x1="443.5" y1="218.4" x2="443.5" y2="351.6" stroke="#000" stroke-width="2" />
<line x1="442.5" y1="350.6" x2="575" y2="350.6" stroke="#000" stroke-width="2" />
<line x1="438.5" y1="350.6" x2="443.5" y2="350.6" stroke="#000" stroke-width="2" />
<text x="437.5" y="354.20000000000005" font-size="10.5" font-weight="bold" font-style="normal" text-anchor="end" fill="#000" stroke="#000" stroke-width="0.25" >100</text>
<line x1="438.5" y1="317.8" x2="443.5" y2="317.8" stroke="#000" stroke-width="2" />
<text x="437.5" y="321.40000000000003" font-size="10.5" font-weight="bold" font-style="normal" text-anchor="end" fill="#000" stroke="#000" stroke-width="0.25" >200</text>
<line x1="438.5" y1="285.0" x2="443.5" y2="285.0" stroke="#000" stroke-width="2" />
<text x="437.5" y="288.6" font-size="10.5" font-weight="bold" font-style="normal" text-anchor="end" fill="#000" stroke="#000" stroke-width="0.25" >300</text>
<line x1="438.5" y1="252.20000000000002" x2="443.5" y2="252.20000000000002" stroke="#000" stroke-width="2" />
<text x="437.5" y="255.8" font-size="10.5" font-weight="bold" font-style="normal" text-anchor="end" fill="#000" stroke="#000" stroke-width="0.25" >400</text>
<line x1="438.5" y1="219.4" x2="443.5" y2="219.4" stroke="#000" stroke-width="2" />
<text x="437.5" y="223.0" font-size="10.5" font-weight="bold" font-style="normal" text-anchor="end" fill="#000" stroke="#000" stroke-width="0.25" >500</text>
<line x1="443.9" y1="350.6" x2="443.9" y2="355" stroke="#000" stroke-width="2" />
<text x="443.9" y="367" font-size="10.8" font-weight="bold" font-style="normal" text-anchor="middle" fill="#000" stroke="#000" stroke-width="0.25" >100</text>
<line x1="476.5" y1="350.6" x2="476.5" y2="355" stroke="#000" stroke-width="2" />
<text x="476.5" y="367" font-size="10.8" font-weight="bold" font-style="normal" text-anchor="middle" fill="#000" stroke="#000" stroke-width="0.25" >150</text>
<line x1="509.09999999999997" y1="350.6" x2="509.09999999999997" y2="355" stroke="#000" stroke-width="2" />
<text x="509.09999999999997" y="367" font-size="10.8" font-weight="bold" font-style="normal" text-anchor="middle" fill="#000" stroke="#000" stroke-width="0.25" >200</text>
<line x1="541.6999999999999" y1="350.6" x2="541.6999999999999" y2="355" stroke="#000" stroke-width="2" />
<text x="541.6999999999999" y="367" font-size="10.8" font-weight="bold" font-style="normal" text-anchor="middle" fill="#000" stroke="#000" stroke-width="0.25" >250</text>
<line x1="574.3" y1="350.6" x2="574.3" y2="355" stroke="#000" stroke-width="2" />
<text x="574.3" y="367" font-size="10.8" font-weight="bold" font-style="normal" text-anchor="middle" fill="#000" stroke="#000" stroke-width="0.25" >300</text>
<text x="0" y="0" font-size="12.7" font-weight="bold" font-style="normal" text-anchor="middle" fill="#000" stroke="#000" stroke-width="0.25" transform="translate(395.8 290.1) rotate(-90) scale(1 1.03)" >mitoATP Production Rate</text>
<text x="0" y="0" font-size="12.55" font-weight="normal" font-style="normal" text-anchor="middle" fill="#000" stroke="#000" stroke-width="0.1" transform="translate(410.8 286.6) rotate(-90) scale(1 1.0)" >(pmol/min/1.5x10<tspan baseline-shift="super" font-size="8">4</tspan> cells)</text>
<text x="507.6" y="384" font-size="12.6" font-weight="bold" font-style="normal" text-anchor="middle" fill="#000" stroke="#000" stroke-width="0.25" >glycoATP Production Rate</text>
<text x="508.5" y="399" font-size="12.5" font-weight="normal" font-style="normal" text-anchor="middle" fill="#000" stroke="#000" stroke-width="0.1" >(pmol/min/1.5x10<tspan baseline-shift="super" font-size="8">4</tspan> cells)</text>
<text x="450" y="240.3" font-size="11" font-weight="normal" font-style="italic" text-anchor="start" fill="#7240b4" stroke="#7240b4" stroke-width="0.1" >Aerobic</text>
<text x="527.7" y="240.3" font-size="10.6" font-weight="normal" font-style="italic" text-anchor="start" fill="#7240b4" stroke="#7240b4" stroke-width="0.1" >Energetic</text>
<text x="451" y="338.3" font-size="10.8" font-weight="normal" font-style="italic" text-anchor="start" fill="#7240b4" stroke="#7240b4" stroke-width="0.1" >Quiescent</text>
<text x="527.7" y="338.3" font-size="10.8" font-weight="normal" font-style="italic" text-anchor="start" fill="#7240b4" stroke="#7240b4" stroke-width="0.1" >Glycolytic</text>
<circle cx="459.6" cy="218.7" r="2.6" fill="#1c2896"/>
<text x="474.5" y="222" font-size="10.5" font-weight="normal" font-style="normal" text-anchor="start" fill="#000" stroke="#000" stroke-width="0.25" >CTL</text>
<rect x="515.6" y="215.9" width="5" height="5" fill="#b01a1a" />
<text x="532.3" y="222" font-size="10.5" font-weight="normal" font-style="normal" text-anchor="start" fill="#000" stroke="#000" stroke-width="0.25" >SAV1 KD</text>
<line x1="496.9" y1="265.1" x2="543.9" y2="265.1" stroke="#b01a1a" stroke-width="1.7" />
<line x1="520.3" y1="250.9" x2="520.3" y2="279.2" stroke="#b01a1a" stroke-width="1.7" />
<line x1="496.9" y1="262.6" x2="496.9" y2="267.6" stroke="#b01a1a" stroke-width="1.7" />
<line x1="543.9" y1="262.6" x2="543.9" y2="267.6" stroke="#b01a1a" stroke-width="1.7" />
<line x1="517.8" y1="250.9" x2="522.8" y2="250.9" stroke="#b01a1a" stroke-width="1.7" />
<line x1="517.8" y1="279.2" x2="522.8" y2="279.2" stroke="#b01a1a" stroke-width="1.7" />
<rect x="517.5" y="262.3" width="5.6" height="5.6" fill="#b01a1a" />
<line x1="500.9" y1="296" x2="544.5" y2="296" stroke="#1c2896" stroke-width="1.7" />
<line x1="522.7" y1="278.6" x2="522.7" y2="312.9" stroke="#1c2896" stroke-width="1.7" />
<line x1="500.9" y1="293.5" x2="500.9" y2="298.5" stroke="#1c2896" stroke-width="1.7" />
<line x1="544.5" y1="293.5" x2="544.5" y2="298.5" stroke="#1c2896" stroke-width="1.7" />
<line x1="520.2" y1="278.6" x2="525.2" y2="278.6" stroke="#1c2896" stroke-width="1.7" />
<line x1="520.2" y1="312.9" x2="525.2" y2="312.9" stroke="#1c2896" stroke-width="1.7" />
<circle cx="522.7" cy="296" r="2.7" fill="#1c2896"/>
</svg></body></html>
